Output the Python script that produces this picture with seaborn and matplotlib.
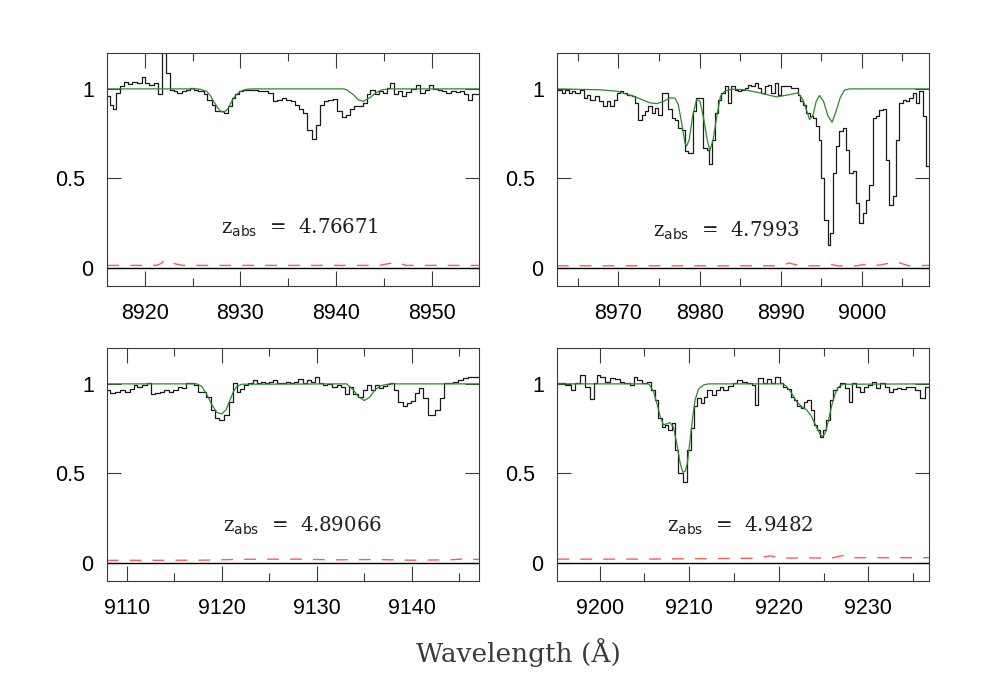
import numpy as np
import pandas as pd
import matplotlib
matplotlib.use('Agg')
import matplotlib.pyplot as plt
import matplotlib.transforms as mtransforms
import seaborn as sns
from matplotlib.ticker import MultipleLocator, FixedLocator

# ---- panel 1 : z_abs = 4.76671 ----
wave1 = [8916.07, 8916.41, 8916.69, 8917.0, 8917.46, 8917.80, 8918.22, 8918.67, 8919.19, 8919.71,
         8920.06, 8920.41, 8920.93, 8921.35, 8921.80, 8922.22, 8922.60, 8923.02, 8923.43, 8923.89,
         8924.34, 8924.75, 8925.17, 8925.62, 8926.15, 8926.56, 8927.01, 8927.36, 8927.81, 8928.30,
         8928.75, 8929.10, 8929.45, 8929.90, 8930.32, 8930.84, 8931.36, 8931.88, 8932.40, 8932.92,
         8933.37, 8933.79, 8934.31, 8934.77, 8935.25, 8935.70, 8936.16, 8936.57, 8936.99, 8937.44,
         8937.89, 8938.31, 8938.73, 8939.18, 8939.63, 8940.12, 8940.57, 8941.02, 8941.44, 8941.86,
         8942.31, 8942.83, 8943.18, 8943.59, 8944.05, 8944.50, 8944.91, 8945.33, 8945.61, 8946.03,
         8946.48, 8946.93, 8947.35, 8947.87, 8948.32, 8948.74, 8949.26, 8949.71, 8950.13, 8950.65,
         8951.10, 8951.52, 8952.04, 8952.49, 8952.91, 8953.33, 8953.78, 8954.23, 8954.93]
flux1 = [0.959, 0.912, 0.888, 0.978, 1.015, 1.037, 1.028, 1.037, 1.034, 1.067,
         1.034, 1.019, 1.034, 0.969, 1.35, 1.089, 0.996, 0.987, 0.978, 0.987,
         0.996, 1.006, 0.996, 0.987, 0.969, 0.940, 0.912, 0.875, 0.875, 0.866,
         0.902, 0.950, 0.969, 0.987, 0.996, 0.993, 0.996, 0.987, 0.987, 0.978,
         0.931, 0.940, 0.950, 0.940, 0.931, 0.912, 0.885, 0.866, 0.773, 0.721,
         0.801, 0.912, 0.931, 0.940, 0.944, 0.875, 0.844, 0.857, 0.885, 0.903,
         0.903, 0.922, 0.969, 0.996, 0.974, 0.987, 0.978, 1.006, 1.034, 0.969,
         0.987, 0.959, 0.981, 1.000, 1.019, 0.978, 0.996, 1.019, 1.000, 0.996,
         0.987, 0.978, 0.987, 0.981, 0.987, 0.969, 0.940, 0.974]
model_wave1 = [8916.0, 8925.5, 8925.8, 8926.0, 8926.5, 8926.9, 8927.2, 8927.45, 8927.7, 8927.95,
               8928.2, 8928.5, 8928.75, 8929.0, 8929.3, 8929.6, 8930.0, 8930.3, 8930.7, 8931.2,
               8940.8, 8941.1, 8941.8, 8942.3, 8942.8, 8943.5, 8944.2, 8944.9, 8945.6, 8955.0]
model_flux1 = [1.0, 1.0, 0.998, 0.995, 0.985, 0.96, 0.93, 0.91, 0.89, 0.875,
               0.87, 0.878, 0.893, 0.92, 0.95, 0.968, 0.985, 0.993, 0.998, 1.0,
               1.0, 0.995, 0.968, 0.94, 0.93, 0.95, 0.98, 0.996, 1.0, 1.0]
err_wave1 = [8916.1, 8921.2, 8921.7, 8922.1, 8922.6, 8923.3, 8924.0, 8944.5, 8945.5, 8946.4, 8947.3, 8954.9]
err1 = [0.015, 0.015, 0.025, 0.045, 0.035, 0.022, 0.015, 0.015, 0.025, 0.032, 0.015, 0.015]

# ---- panel 2 : z_abs = 4.7993 ----
wave2 = [8962.42, 8963.03, 8963.44, 8963.85, 8964.26, 8964.67, 8965.29, 8965.70, 8966.11, 8966.52,
         8967.13, 8967.54, 8968.07, 8968.57, 8968.98, 8969.39, 8969.80, 8970.20, 8970.61, 8971.11,
         8971.64, 8972.05, 8972.46, 8972.87, 8973.28, 8973.69, 8974.10, 8974.51, 8974.92, 8975.33,
         8975.74, 8976.15, 8976.56, 8976.97, 8977.38, 8977.79, 8978.20, 8978.61, 8979.14, 8979.55,
         8980.04, 8980.45, 8980.86, 8981.19, 8981.52, 8981.89, 8982.30, 8982.70, 8983.11, 8983.52,
         8983.93, 8984.34, 8984.75, 8985.16, 8985.57, 8985.98, 8986.39, 8986.80, 8987.21, 8987.62,
         8988.03, 8988.44, 8988.85, 8989.26, 8989.67, 8990.08, 8990.49, 8990.90, 8991.31, 8991.72,
         8992.13, 8992.42, 8992.75, 8993.16, 8993.57, 8993.98, 8994.39, 8994.71, 8995.00, 8995.41,
         8995.82, 8996.15, 8996.48, 8996.84, 8997.25, 8997.66, 8998.07, 8998.48, 8998.89, 8999.30,
         8999.71, 9000.12, 9000.53, 9000.94, 9001.35, 9001.76, 9002.17, 9002.58, 9002.99, 9003.40,
         9003.81, 9004.22, 9004.63, 9005.04, 9005.45, 9005.86, 9006.27, 9006.68, 9007.09, 9007.50,
         9007.91, 9008.30]
flux2 = [0.996, 0.978, 0.996, 0.978, 0.987, 0.978, 0.996, 0.950, 0.968, 0.940,
         0.959, 0.931, 0.903, 0.931, 0.903, 0.940, 0.978, 0.987, 0.978, 0.968,
         0.959, 0.922, 0.829, 0.857, 0.875, 0.903, 0.866, 0.894, 0.857, 0.978,
         0.978, 0.885, 0.838, 0.829, 0.782, 0.773, 0.652, 0.642, 0.875, 0.950,
         0.950, 0.670, 0.661, 0.583, 0.717, 0.866, 0.940, 0.978, 1.015, 0.922,
         1.015, 0.996, 0.987, 0.996, 1.006, 1.024, 1.015, 1.034, 1.006, 0.978,
         1.015, 1.024, 0.978, 1.034, 0.968, 1.015, 1.015, 1.015, 1.006, 1.006,
         0.968, 0.931, 0.912, 0.866, 0.847, 0.838, 0.791, 0.717, 0.503, 0.270,
         0.130, 0.196, 0.531, 0.680, 0.764, 0.782, 0.661, 0.531, 0.540, 0.363,
         0.251, 0.307, 0.382, 0.466, 0.838, 0.847, 0.881, 0.885, 0.605, 0.354,
         0.400, 0.717, 0.922, 0.940, 0.931, 0.950, 0.978, 0.922, 0.987, 0.847,
         0.568]
model_wave2 = [8962.4, 8967.75, 8969.8, 8971.84, 8973.89, 8974.71, 8975.53, 8976.35, 8976.97, 8977.38,
               8977.79, 8978.2, 8978.4, 8978.73, 8979.14, 8979.63, 8980.04, 8980.53, 8980.94, 8981.27,
               8981.68, 8982.09, 8982.58, 8983.11, 8983.93, 8985.37, 8987.42, 8989.47, 8991.11, 8992.13,
               8992.75, 8993.16, 8993.57, 8993.98, 8994.39, 8994.8, 8995.29, 8995.82, 8996.35, 8996.84,
               8997.34, 8997.87, 8998.48, 9008.3]
model_flux2 = [1.0, 0.995, 0.987, 0.959, 0.922, 0.918, 0.929, 0.950, 0.948, 0.912,
               0.81, 0.698, 0.680, 0.717, 0.847, 0.940, 0.931, 0.829, 0.717, 0.656,
               0.717, 0.838, 0.959, 0.987, 0.998, 0.996, 0.978, 0.955, 0.968, 0.978,
               0.94, 0.885, 0.829, 0.851, 0.931, 0.963, 0.931, 0.851, 0.814, 0.875,
               0.950, 0.993, 1.0, 1.0]
err_wave2 = [8962.4, 8989.8, 8991.1, 8992.3, 8995.5, 8996.3, 8997.0, 8999.4, 9000.3, 9001.2,
             9002.4, 9003.2, 9004.4, 9005.8, 9008.3]
err2 = [0.013, 0.013, 0.028, 0.013, 0.013, 0.02, 0.013, 0.013, 0.02, 0.013,
        0.018, 0.026, 0.033, 0.013, 0.015]

# ---- panel 3 : z_abs = 4.89066 ----
wave3 = [9107.93, 9108.28, 9108.81, 9109.33, 9109.86, 9110.39, 9110.74, 9111.09, 9111.61, 9112.14,
         9112.56, 9113.01, 9113.47, 9113.96, 9114.41, 9114.87, 9115.36, 9115.81, 9116.27, 9116.69,
         9117.11, 9117.46, 9117.92, 9118.38, 9118.86, 9119.32, 9119.77, 9120.26, 9120.72, 9121.17,
         9121.59, 9121.94, 9122.36, 9122.82, 9123.27, 9123.70, 9124.12, 9124.57, 9125.03, 9125.45,
         9125.87, 9126.32, 9126.78, 9127.20, 9127.62, 9128.07, 9128.53, 9128.95, 9129.37, 9129.82,
         9130.28, 9130.70, 9131.12, 9131.58, 9132.10, 9132.52, 9132.98, 9133.43, 9133.85, 9134.38,
         9134.83, 9135.25, 9135.67, 9136.13, 9136.58, 9137.01, 9137.43, 9137.71, 9138.13, 9138.58,
         9139.04, 9139.46, 9139.88, 9140.33, 9140.79, 9141.21, 9141.73, 9142.43, 9142.96, 9143.38,
         9143.84, 9144.36, 9144.89, 9145.41, 9145.94, 9146.46, 9147.09]
flux3 = [0.967, 0.948, 0.957, 0.967, 0.952, 0.970, 0.994, 0.985, 0.994, 1.004,
         0.944, 0.948, 0.957, 0.967, 0.957, 0.967, 0.985, 0.976, 1.004, 1.007,
         0.994, 0.957, 0.952, 0.929, 0.855, 0.809, 0.796, 0.827, 0.901, 1.004,
         0.957, 0.970, 0.994, 1.004, 1.019, 1.004, 1.013, 1.004, 1.013, 1.019,
         1.004, 1.007, 1.013, 1.004, 1.013, 1.026, 1.007, 1.022, 1.013, 1.041,
         1.007, 0.994, 1.000, 0.985, 0.994, 0.981, 0.944, 0.985, 0.944, 0.926,
         0.967, 0.994, 0.967, 0.994, 0.976, 0.989, 1.000, 1.004, 0.967, 0.901,
         0.874, 0.896, 0.907, 0.948, 0.976, 0.920, 0.827, 0.855, 0.920, 1.004,
         1.007, 1.013, 1.022, 1.032, 1.037, 1.041]
model_wave3 = [9107.9, 9117.39, 9117.92, 9118.44, 9118.97, 9119.49, 9120.02, 9120.47, 9120.89, 9121.24,
               9121.59, 9122.12, 9133.15, 9133.85, 9134.38, 9135.01, 9135.60, 9136.13, 9136.83, 9137.71,
               9147.1]
model_flux3 = [1.0, 1.0, 0.985, 0.939, 0.883, 0.840, 0.833, 0.857, 0.911, 0.957,
               0.985, 0.998, 1.0, 0.967, 0.929, 0.907, 0.926, 0.967, 0.991, 1.0,
               1.0]
err_wave3 = [9107.9, 9118.0, 9122.0, 9128.0, 9132.0, 9136.0, 9140.0, 9144.0, 9145.5, 9147.1]
err3 = [0.015, 0.016, 0.021, 0.022, 0.018, 0.02, 0.016, 0.018, 0.023, 0.02]

# ---- panel 4 : z_abs = 4.9482 ----
wave4 = [9195.25, 9195.62, 9196.18, 9196.81, 9197.29, 9197.85, 9198.40, 9198.89, 9199.33, 9199.70,
         9200.07, 9200.63, 9201.19, 9201.75, 9202.30, 9202.75, 9203.34, 9203.79, 9204.23, 9204.72,
         9205.27, 9205.72, 9206.20, 9206.57, 9206.94, 9207.32, 9207.69, 9208.06, 9208.43, 9208.80,
         9209.10, 9209.36, 9209.80, 9210.17, 9210.55, 9210.92, 9211.29, 9211.66, 9212.03, 9212.51,
         9212.96, 9213.44, 9213.81, 9214.37, 9214.85, 9215.37, 9215.86, 9216.41, 9216.97, 9217.34,
         9217.71, 9218.20, 9218.64, 9219.09, 9219.57, 9220.13, 9220.50, 9220.94, 9221.31, 9221.69,
         9222.06, 9222.43, 9222.80, 9223.17, 9223.54, 9223.91, 9224.21, 9224.58, 9224.95, 9225.32,
         9225.70, 9226.07, 9226.51, 9226.88, 9227.37, 9227.81, 9228.22, 9228.59, 9229.04, 9229.48,
         9229.97, 9230.45, 9230.89, 9231.34, 9231.82, 9232.31, 9232.75, 9233.20, 9233.68, 9234.16,
         9234.61, 9235.16, 9235.72, 9236.28, 9236.76]
flux4 = [1.004, 1.007, 0.994, 0.967, 1.004, 1.050, 0.985, 0.914, 1.004, 1.050,
         1.041, 1.013, 1.032, 1.026, 1.013, 1.007, 0.994, 1.041, 1.022, 1.004,
         1.013, 0.967, 0.911, 0.809, 0.762, 0.771, 0.743, 0.781, 0.632, 0.502,
         0.502, 0.455, 0.632, 0.753, 0.874, 0.920, 0.892, 0.929, 0.967, 0.939,
         0.967, 0.985, 0.967, 0.989, 1.004, 1.022, 1.013, 1.004, 0.994, 0.883,
         1.032, 1.004, 1.026, 1.004, 1.037, 1.004, 0.985, 0.970, 0.929, 0.911,
         0.874, 0.864, 0.901, 0.911, 0.855, 0.771, 0.743, 0.706, 0.743, 0.799,
         0.911, 0.967, 0.985, 1.004, 0.976, 0.901, 1.004, 0.985, 0.957, 0.985,
         0.994, 1.013, 0.976, 1.004, 0.985, 0.952, 0.970, 0.976, 0.970, 0.981,
         0.985, 0.967, 0.920, 0.985]
model_wave4 = [9195.25, 9205.46, 9205.64, 9206.02, 9206.39, 9206.76, 9207.13, 9207.50, 9207.87, 9208.24,
               9208.61, 9208.99, 9209.28, 9209.54, 9209.80, 9210.10, 9210.40, 9210.66, 9211.03, 9211.59,
               9212.14, 9220.50, 9220.87, 9221.43, 9221.98, 9222.54, 9223.10, 9223.65, 9224.21, 9224.58,
               9224.88, 9225.18, 9225.51, 9225.88, 9226.25, 9226.62, 9227.18, 9236.76]
model_flux4 = [1.0, 1.0, 0.989, 0.957, 0.892, 0.818, 0.771, 0.777, 0.784, 0.758,
               0.669, 0.558, 0.507, 0.511, 0.558, 0.688, 0.818, 0.911, 0.970, 0.994,
               1.0, 1.0, 0.985, 0.948, 0.901, 0.874, 0.855, 0.818, 0.758, 0.721,
               0.706, 0.725, 0.790, 0.874, 0.939, 0.981, 0.998, 1.0]
err_wave4 = [9195.3, 9205.0, 9212.0, 9217.5, 9219.0, 9220.5, 9226.0, 9227.2, 9228.4, 9236.8]
err4 = [0.022, 0.022, 0.025, 0.027, 0.04, 0.028, 0.029, 0.043, 0.03, 0.03]

zabs_labels = ['4.76671', '4.7993', '4.89066', '4.9482']
xlims = [(8916.07, 8954.93), (8962.42, 9008.3), (9107.93, 9147.09), (9195.25, 9236.76)]
ytick_vals = [0, 0.5, 1]
ytick_text = ['0', '0.5', '1']

panels = [
    dict(wave=wave1, flux=flux1, mw=model_wave1, mf=model_flux1, ew=err_wave1, ef=err1),
    dict(wave=wave2, flux=flux2, mw=model_wave2, mf=model_flux2, ew=err_wave2, ef=err2),
    dict(wave=wave3, flux=flux3, mw=model_wave3, mf=model_flux3, ew=err_wave3, ef=err3),
    dict(wave=wave4, flux=flux4, mw=model_wave4, mf=model_flux4, ew=err_wave4, ef=err4),
]

sns.set_style('ticks')
plt.rcParams['font.family'] = ['Liberation Sans', 'DejaVu Sans']
plt.rcParams['mathtext.fontset'] = 'dejavuserif'

fig = plt.figure(figsize=(9.81, 6.8), dpi=100)
rects = [[0.1091, 0.5794, 0.3792, 0.3426], [0.5678, 0.5794, 0.3792, 0.3426],
         [0.1091, 0.1456, 0.3792, 0.3426], [0.5678, 0.1456, 0.3792, 0.3426]]
# left edge / baseline of the z_abs annotation in axes fraction
ztext_pos = [(0.306, 0.226), (0.258, 0.212), (0.312, 0.212), (0.296, 0.212)]
# y tick labels: right edge offset from the frame (px); the 0.5 one sits further left
ylab_off = [14, 22, 13]
frame_col = '#3a3a3a'

for i, p in enumerate(panels):
    ax = fig.add_axes(rects[i])
    df = pd.DataFrame({'wave': p['wave'], 'flux': p['flux'] + [p['flux'][-1]]})
    sns.lineplot(data=df, x='wave', y='flux', ax=ax, color='#1a1a1a', lw=0.9,
                 drawstyle='steps-post', estimator=None, sort=False)
    sns.lineplot(x=p['mw'], y=p['mf'], ax=ax, color='#2a8a2a', lw=0.9,
                 estimator=None, sort=False)
    sns.lineplot(x=p['ew'], y=p['ef'], ax=ax, color='#ff5a5a', lw=1.0,
                 linestyle=(0, (8.5, 8.0)), estimator=None, sort=False)
    ax.axhline(0, color='black', lw=1.0)

    ax.set_xlim(*xlims[i])
    ax.set_ylim(-0.1, 1.2)
    ax.xaxis.set_major_locator(MultipleLocator(10))
    ax.xaxis.set_minor_locator(MultipleLocator(5))
    ax.yaxis.set_major_locator(FixedLocator(ytick_vals))
    ax.set_yticklabels([])
    ax.tick_params(which='both', direction='in', top=True, right=True,
                   color=frame_col, width=0.8, labelsize=15.5, labelcolor='black')
    ax.tick_params(axis='x', which='major', length=10.8, pad=12.5)
    ax.tick_params(axis='x', which='minor', length=5.8)
    ax.tick_params(axis='y', which='major', length=10.0)
    ax.set_xlabel('')
    ax.set_ylabel('')
    for s in ax.spines.values():
        s.set_color(frame_col)
        s.set_linewidth(0.8)

    for val, txt, off in zip(ytick_vals, ytick_text, ylab_off):
        tr = ax.get_yaxis_transform() + mtransforms.ScaledTranslation(-off / 100, 0, fig.dpi_scale_trans)
        ax.text(0, val, txt, transform=tr, ha='right', va='center_baseline',
                fontsize=15.5, color='black')

    tx, ty = ztext_pos[i]
    ax.text(tx, ty, r'$\mathrm{z}_{\mathsf{abs}}$  =  ' + zabs_labels[i],
            transform=ax.transAxes, ha='left', va='baseline',
            family='DejaVu Serif', fontsize=14.2, color='#222222')

fig.text(0.5285, 0.0269, 'Wavelength (Å)', ha='center', va='baseline',
         family='DejaVu Serif', fontsize=19, color='#3a3a3a')

fig.savefig('out.png', dpi=100)
